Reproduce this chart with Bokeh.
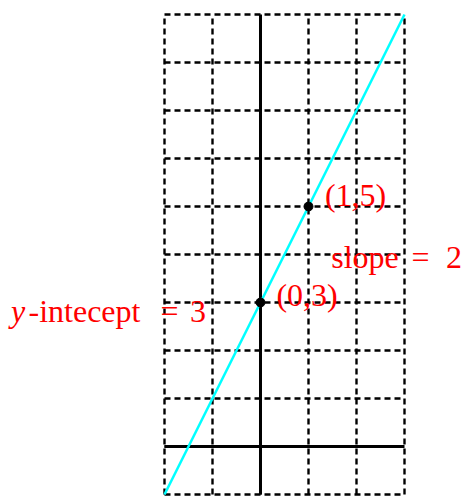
from bokeh.plotting import figure
from bokeh.models import Range1d
from bokeh.core.properties import value
from bokeh.embed import file_html
from bokeh.resources import INLINE

# grid extents
grid_x = [-2, -1, 0, 1, 2, 3]
grid_y = [-1, 0, 1, 2, 3, 4, 5, 6, 7, 8, 9]
x_min, x_max = -2, 3
y_min, y_max = -1, 9

# line y = m x + b
slope = 2
intercept = 3
line_x = [-2, 3]
line_y = [slope * xv + intercept for xv in line_x]

# marked points
pts_x = [0, 1]
pts_y = [3, 5]

# labels (text, style)
label_text = ["(1,5)", "(0,3)", "slope", "=", "2", "y", "-intecept", "=", "3"]
label_style = ["normal", "normal", "normal", "normal", "normal", "italic", "normal", "normal", "normal"]
label_x = [1.98, 0.97, 2.177, 3.333, 4.031, -5.052, -3.667, -1.896, -1.302]
label_y = [5.23, 3.146, 3.9375, 3.9375, 3.9375, 2.8125, 2.8125, 2.8125, 2.8125]

p = figure(width=463, height=496, output_backend="svg", toolbar_location=None,
           x_range=Range1d(-5.4167, 4.2292), y_range=Range1d(-1.0417, 9.2917),
           min_border=0, outline_line_color=None, background_fill_color="white",
           border_fill_color="white")
p.axis.visible = False
p.grid.visible = False

# dashed grid
p.segment(x0=grid_x, y0=[y_min] * len(grid_x), x1=grid_x, y1=[y_max] * len(grid_x),
          line_color="black", line_width=2.4, line_dash="6 4")
p.segment(x0=[x_min] * len(grid_y), y0=grid_y, x1=[x_max] * len(grid_y), y1=grid_y,
          line_color="black", line_width=2.4, line_dash="6 4")

# axes
p.segment(x0=[x_min, 0], y0=[0, y_min], x1=[x_max, 0], y1=[0, y_max],
          line_color="black", line_width=3)

# line
p.line(line_x, line_y, line_color="#00FFFF", line_width=2.5)

# points
p.scatter(pts_x, pts_y, size=9, fill_color="black", line_color="black")

for t, s, xv, yv in zip(label_text, label_style, label_x, label_y):
    p.text(x=[xv], y=[yv], text=[t], text_color="red", text_font=value("Liberation Serif"),
           text_font_size="32px", text_align="center", text_baseline="alphabetic",
           text_font_style=s)

open("out.html", "w").write(file_html(p, INLINE))
